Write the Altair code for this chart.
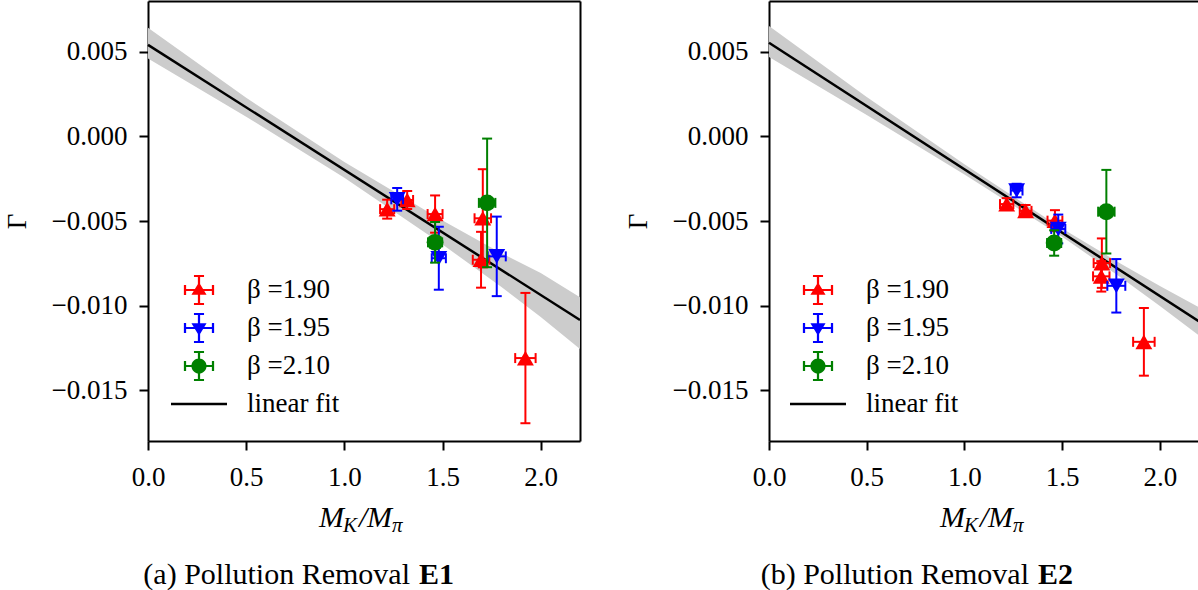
import altair as alt
import pandas as pd

# ---------------- shared settings ----------------
SERIES = ["β =1.90", "β =1.95", "β =2.10"]
FIT_LABEL = "linear fit"
LEGEND_DOMAIN = SERIES + [FIT_LABEL]
COLORS = ["#ff0000", "#0000ff", "#008000", "#000000"]
MARKERS = ["triangle-up", "triangle-down", "circle"]

X_DOMAIN = [0.0, 2.2]
Y_DOMAIN = [-0.018, 0.008]
X_TICKS = [0.0, 0.5, 1.0, 1.5, 2.0]
Y_TICKS = [-0.015, -0.010, -0.005, 0.000, 0.005]
Y_TITLE = "Γ"
X_TITLE_PARTS = ["M", "K", "/", "M", "π"]
CAPTIONS = ["(a) Pollution Removal", "(b) Pollution Removal"]
CAPTION_BOLD = ["E1", "E2"]

# ---------------- panel (a): E1 ----------------
E1_SERIES = [0, 0, 0, 0, 0, 0, 1, 1, 1, 2, 2]
E1_X = [1.218, 1.320, 1.462, 1.705, 1.696, 1.922, 1.269, 1.481, 1.776, 1.462, 1.727]
E1_Y = [-0.00430, -0.00376, -0.00459, -0.00484, -0.00729, -0.01310,
        -0.00372, -0.00720, -0.00709, -0.00626, -0.00393]
E1_XERR = [0.036, 0.030, 0.038, 0.042, 0.042, 0.052, 0.030, 0.036, 0.046, 0.036, 0.042]
E1_YERR = [0.00056, 0.00053, 0.00110, 0.00290, 0.00165, 0.00385,
           0.00067, 0.00186, 0.00235, 0.00120, 0.00380]
E1_FIT_X = [0.0, 2.2]
E1_FIT_Y = [0.00541, -0.01085]
E1_BAND_X = [0.0, 0.5, 1.0, 1.5, 1.8, 2.0, 2.2]
E1_BAND_LO = [0.00460, 0.00116, -0.00245, -0.00639, -0.00890, -0.01067, -0.01257]
E1_BAND_HI = [0.00642, 0.00228, -0.00151, -0.00497, -0.00690, -0.00807, -0.00950]

# ---------------- panel (b): E2 ----------------
E2_SERIES = [0, 0, 0, 0, 0, 0, 1, 1, 1, 2, 2]
E2_X = [1.216, 1.313, 1.463, 1.703, 1.700, 1.918, 1.267, 1.480, 1.777, 1.459, 1.726]
E2_Y = [-0.00400, -0.00440, -0.00498, -0.00749, -0.00827, -0.01214,
        -0.00320, -0.00547, -0.00883, -0.00630, -0.00445]
E2_XERR = [0.034, 0.030, 0.038, 0.042, 0.042, 0.055, 0.030, 0.036, 0.046, 0.036, 0.042]
E2_YERR = [0.00035, 0.00035, 0.00062, 0.00146, 0.00090, 0.00200,
           0.00040, 0.00085, 0.00158, 0.00075, 0.00247]
E2_FIT_X = [0.0, 2.2]
E2_FIT_Y = [0.00553, -0.01093]
E2_BAND_X = [0.0, 0.5, 1.0, 1.5, 1.8, 2.0, 2.2]
E2_BAND_LO = [0.00469, 0.00126, -0.00225, -0.00593, -0.00834, -0.01002, -0.01176]
E2_BAND_HI = [0.00652, 0.00232, -0.00165, -0.00545, -0.00752, -0.00884, -0.01010]

FONT = "Liberation Serif"

# ---------------- legend symbols (custom SVG paths) ----------------
SYM = 44            # legend symbol box (px)
K = 28.0 / 22.0     # path units are scaled so that 1 unit = 22 px


def f(v):
    return f"{v * K:.4f}"


def rect(x0, y0, x1, y1):
    return f"M{f(x0)},{f(y0)}H{f(x1)}V{f(y1)}H{f(x0)}Z"


T = 0.08
CROSS = (rect(-0.5, -T / 2, 0.5, T / 2) + rect(-T / 2, -0.5, T / 2, 0.5)
         + rect(-0.18, -0.5 - T / 2, 0.18, -0.5 + T / 2)
         + rect(-0.18, 0.5 - T / 2, 0.18, 0.5 + T / 2)
         + rect(-0.5 - T / 2, -0.18, -0.5 + T / 2, 0.18)
         + rect(0.5 - T / 2, -0.18, 0.5 + T / 2, 0.18))
R = 0.27
LEGEND_SHAPES = [
    CROSS + f"M0,{f(-0.28)}L{f(0.27)},{f(0.17)}L{f(-0.27)},{f(0.17)}Z",
    CROSS + f"M0,{f(0.28)}L{f(-0.27)},{f(-0.17)}L{f(0.27)},{f(-0.17)}Z",
    CROSS + f"M{f(R)},0A{f(R)},{f(R)} 0 1,1 {f(-R)},0A{f(R)},{f(R)} 0 1,1 {f(R)},0Z",
    rect(-1, -0.045, 1, 0.045),
]

XS = alt.Scale(domain=X_DOMAIN, nice=False, zero=False)
YS = alt.Scale(domain=Y_DOMAIN, nice=False, zero=False)


def data_scale():
    # scale for the drawn data (3 series) -- distinct from the legend scale
    return alt.Scale(domain=SERIES, range=COLORS[:3])


def panel(idx, series, xs, ys, xerr, yerr, fit_x, fit_y, band_x, band_lo, band_hi,
          width, right_border, legend_x, cap_right, cap_left):
    H = 440
    df = pd.DataFrame({
        "series": [SERIES[s] for s in series], "x": xs, "y": ys,
        "xerr": xerr, "yerr": yerr,
    })
    band = pd.DataFrame({"x": band_x, "lo": band_lo, "hi": band_hi})
    fit = pd.DataFrame({"x": fit_x, "y": fit_y})

    main_x = alt.Axis(values=X_TICKS, format=".1f", title=None, orient="bottom",
                      tickSize=9, tickWidth=2, domainWidth=2, labelPadding=14,
                      grid=False, labelFlush=False, labelOverlap=False)
    main_y = alt.Axis(values=Y_TICKS, format=".3f", title=Y_TITLE, orient="left",
                      tickSize=9, tickWidth=2, domainWidth=2, labelPadding=12,
                      titlePadding=20, grid=False, labelOverlap=False)
    top_x = alt.Axis(orient="top", labels=False, ticks=False, title=None,
                     domainWidth=2, grid=False)
    right_y = alt.Axis(orient="right", labels=False, ticks=False, title=None,
                       domainWidth=2, grid=False)

    layers = []
    layers.append(alt.Chart(band).mark_area(color="#cccccc", opacity=1).encode(
        x=alt.X("x:Q", scale=XS, axis=main_x),
        y=alt.Y("lo:Q", scale=YS, axis=main_y),
        y2="hi:Q",
    ))
    layers.append(alt.Chart(fit).mark_line(color="black", strokeWidth=2.5).encode(
        x=alt.X("x:Q", scale=XS, axis=top_x),
        y=alt.Y("y:Q", scale=YS, axis=right_y if right_border else None),
    ))

    stroke = alt.Stroke("series:N", scale=data_scale(), legend=None)
    fill = alt.Fill("series:N", scale=data_scale(), legend=None)
    for k, name in enumerate(SERIES):
        base = alt.Chart(df).transform_filter(
            alt.datum.series == name
        ).transform_calculate(
            xlo="datum.x - datum.xerr", xhi="datum.x + datum.xerr",
            ylo="datum.y - datum.yerr", yhi="datum.y + datum.yerr",
        )
        layers.append(base.mark_rule(strokeWidth=2).encode(
            x=alt.X("x:Q", scale=XS, axis=None),
            y=alt.Y("ylo:Q", scale=YS, axis=None), y2="yhi:Q", stroke=stroke))
        layers.append(base.mark_rule(strokeWidth=2).encode(
            x=alt.X("xlo:Q", scale=XS, axis=None), x2="xhi:Q",
            y=alt.Y("y:Q", scale=YS, axis=None), stroke=stroke))
        layers.append(base.transform_fold(["ylo", "yhi"], as_=["end", "yc"]).mark_tick(
            orient="horizontal", size=10, thickness=2, opacity=1).encode(
            x=alt.X("x:Q", scale=XS, axis=None),
            y=alt.Y("yc:Q", scale=YS, axis=None), fill=fill))
        layers.append(base.transform_fold(["xlo", "xhi"], as_=["end", "xc"]).mark_tick(
            orient="vertical", size=10, thickness=2, opacity=1).encode(
            x=alt.X("xc:Q", scale=XS, axis=None),
            y=alt.Y("y:Q", scale=YS, axis=None), fill=fill))
        layers.append(base.mark_point(shape=MARKERS[k], filled=True, opacity=1,
                                      size=285, strokeWidth=0).encode(
            x=alt.X("x:Q", scale=XS, axis=None),
            y=alt.Y("y:Q", scale=YS, axis=None), fill=fill))

    # legend-only layer (no marks drawn, legend built from the scale domain)
    legend = alt.Legend(
        title=None, orient="none", legendX=legend_x, legendY=267,
        symbolSize=SYM * SYM, symbolStrokeWidth=0, symbolOpacity=1,
        labelFont=FONT, labelFontSize=27, labelColor="black", labelOffset=26,
        rowPadding=0, padding=0, symbolOffset=0,
    )
    layers.append(alt.Chart(df).transform_filter("false").mark_point(
        filled=True, opacity=1).encode(
        x=alt.X("x:Q", scale=XS, axis=None),
        y=alt.Y("y:Q", scale=YS, axis=None),
        color=alt.Color("series:N", scale=alt.Scale(domain=LEGEND_DOMAIN, range=COLORS),
                        legend=legend),
        shape=alt.Shape("series:N", scale=alt.Scale(domain=LEGEND_DOMAIN,
                                                    range=LEGEND_SHAPES),
                        legend=legend),
    ))

    # x-axis title M_K / M_pi built from pieces (main + subscripts)
    pieces = [(X_TITLE_PARTS[0], 171, 526, 30), (X_TITLE_PARTS[1], 195, 531, 21),
              (X_TITLE_PARTS[2], 211, 526, 30), (X_TITLE_PARTS[3], 219, 526, 30),
              (X_TITLE_PARTS[4], 244, 531, 21)]
    for txt, px, py, fs in pieces:
        layers.append(alt.Chart(pd.DataFrame({"t": [txt]})).mark_text(
            font=FONT, fontSize=fs, fontStyle="italic", align="left",
            baseline="alphabetic", color="black").encode(
            text="t:N", x=alt.value(px), y=alt.value(py)))
    # caption
    layers.append(alt.Chart(pd.DataFrame({"t": [CAPTIONS[idx]]})).mark_text(
        font=FONT, fontSize=30, align="right", baseline="alphabetic",
        color="black").encode(text="t:N", x=alt.value(cap_right), y=alt.value(583)))
    layers.append(alt.Chart(pd.DataFrame({"t": [CAPTION_BOLD[idx]]})).mark_text(
        font=FONT, fontSize=30, fontWeight="bold", align="left",
        baseline="alphabetic", color="black").encode(
        text="t:N", x=alt.value(cap_left), y=alt.value(583)))

    return alt.layer(*layers).resolve_axis(x="independent", y="independent").properties(
        width=width, height=H)


left = panel(0, E1_SERIES, E1_X, E1_Y, E1_XERR, E1_YERR, E1_FIT_X, E1_FIT_Y,
             E1_BAND_X, E1_BAND_LO, E1_BAND_HI, 432, True, 29, 262, 271)
right = panel(1, E2_SERIES, E2_X, E2_Y, E2_XERR, E2_YERR, E2_FIT_X, E2_FIT_Y,
              E2_BAND_X, E2_BAND_LO, E2_BAND_HI, 430, False, 27, 260, 269)

chart = alt.hconcat(left, right, spacing=39).resolve_scale(
    color="independent", shape="independent", fill="independent", stroke="independent"
).properties(
    autosize=alt.AutoSizeParams(type="none"),
    padding={"left": 148, "top": 1, "right": 1050, "bottom": 589},
    background="white",
).configure_view(strokeWidth=0).configure_axis(
    labelFont=FONT, labelFontSize=27, labelColor="black",
    titleFont=FONT, titleFontSize=27, titleFontWeight="normal", titleColor="black",
    domainColor="black", tickColor="black",
)

chart.save("out.html", embed_options={"renderer": "svg", "actions": False})
